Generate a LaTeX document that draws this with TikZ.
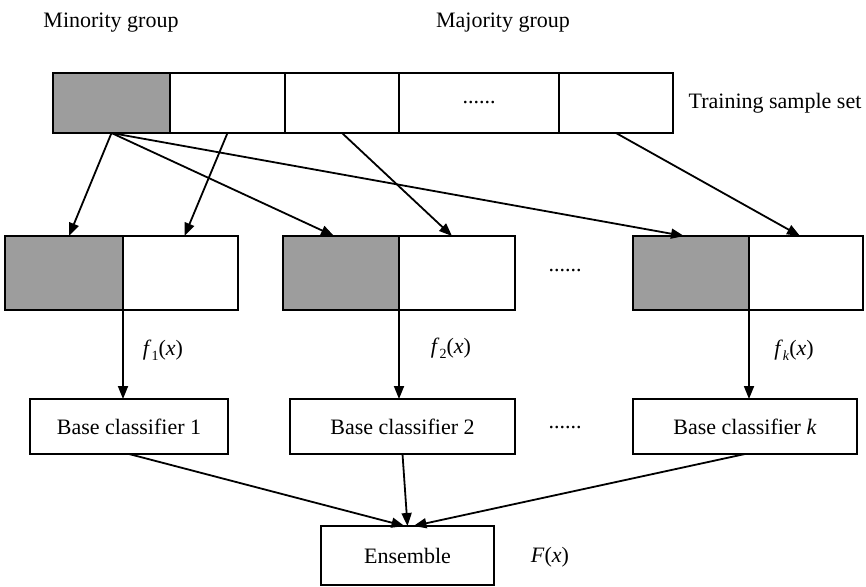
\documentclass[tikz,border=0pt]{standalone}
\usepackage{fontspec}
\setmainfont{Liberation Serif}
\usetikzlibrary{arrows.meta}
\definecolor{shade}{HTML}{9D9D9D}
\newcommand{\flab}[1]{\textit{f}\raisebox{-0.25em}{\fontsize{14}{14}\selectfont #1}(\textit{x})}
\begin{document}
\begin{tikzpicture}[x=1pt,y=-1pt,
  every node/.style={font=\fontsize{22}{26}\selectfont},
  cell/.style={draw,line width=1.6pt,inner sep=0pt,outer sep=0pt},
  gcell/.style={cell,fill=shade},
  box/.style={draw,line width=1.8pt,inner sep=0pt,outer sep=0pt,fill=white},
  arr/.style={line width=1.8pt,-{Triangle[length=13pt,width=10pt]}},
  lbl/.style={inner sep=0pt}]
\useasboundingbox (0,0) rectangle (866,586);
% top bar
\node[gcell,minimum width=117pt,minimum height=60pt] (c1) at (111.5,103) {};
\node[cell,minimum width=115pt,minimum height=60pt] (c2) at (227.5,103) {};
\node[cell,minimum width=114pt,minimum height=60pt] (c3) at (342,103) {};
\node[cell,minimum width=160pt,minimum height=60pt] (c4) at (479,103) {......};
\node[cell,minimum width=114pt,minimum height=60pt] (c5) at (616,103) {};
\node[lbl] (tss) at (775,103) {Training sample set};
\node[lbl] (mino) at (111,23) {Minority group};
\node[lbl] (majo) at (503,23) {Majority group};
% middle boxes
\node[gcell,line width=1.8pt,minimum width=118pt,minimum height=74pt] (m1a) at (64,273) {};
\node[cell,line width=1.8pt,minimum width=115pt,minimum height=74pt] (m1b) at (180.5,273) {};
\node[gcell,line width=1.8pt,minimum width=116pt,minimum height=74pt] (m2a) at (341,273) {};
\node[cell,line width=1.8pt,minimum width=116pt,minimum height=74pt] (m2b) at (457,273) {};
\node[gcell,line width=1.8pt,minimum width=116pt,minimum height=74pt] (m3a) at (691,273) {};
\node[cell,line width=1.8pt,minimum width=114pt,minimum height=74pt] (m3b) at (806,273) {};
\node[lbl] (dots1) at (565,271) {......};
% base classifiers
\node[box,minimum width=198pt,minimum height=55pt] (b1) at (129,426.5) {Base classifier 1};
\node[box,minimum width=225pt,minimum height=55pt] (b2) at (402.5,426.5) {Base classifier 2};
\node[box,minimum width=224pt,minimum height=55pt] (b3) at (745,426.5) {Base classifier \textit{k}};
\node[lbl] (dots2) at (565,428) {......};
\node[box,minimum width=173pt,minimum height=59pt] (ens) at (407.5,555.5) {Ensemble};
\node[lbl] (Fx) at (550,557) {\textit{F}(\textit{x})};
% labels
\node[lbl] (f1) at (163,350) {\flab{1}};
\node[lbl] (f2) at (451,348) {\flab{2}};
\node[lbl] (fk) at (794,350) {\flab{\textit{k}}};
% arrows top -> middle
\draw[arr] (c1.south) -- ([xshift=5pt]m1a.north);
\draw[arr] (c2.south) -- ([xshift=4pt]m1b.north);
\draw[arr] (c1.south) -- ([xshift=-7pt]m2a.north);
\draw[arr] (c3.south) -- ([xshift=-5pt]m2b.north);
\draw[arr] (c1.south) -- ([xshift=-7pt]m3a.north);
\draw[arr] (c5.south) -- ([xshift=-6pt]m3b.north);
% verticals
\draw[arr] (m1a.south east) -- (m1a.south east |- b1.north);
\draw[arr] (m2a.south east) -- (m2a.south east |- b2.north);
\draw[arr] (m3a.south east) -- (m3a.south east |- b3.north);
% to ensemble
\draw[arr] (b1.south) -- ([xshift=-3pt]ens.north);
\draw[arr] (b2.south) -- ([xshift=0pt]ens.north);
\draw[arr] (b3.south) -- ([xshift=6pt]ens.north);
\end{tikzpicture}
\end{document}
